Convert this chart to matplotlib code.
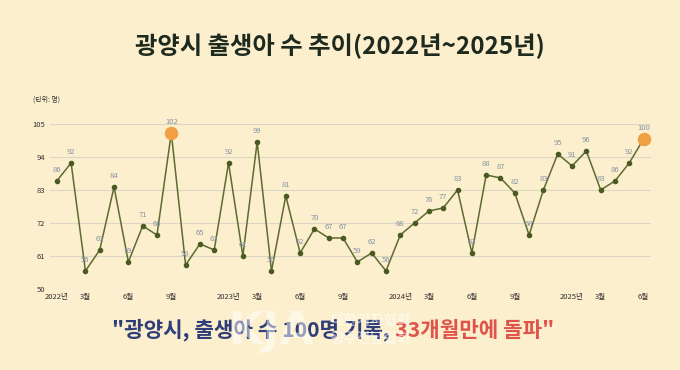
import matplotlib
matplotlib.use("Agg")
from matplotlib import pyplot as plt

plt.rcParams['font.family'] = ['Noto Sans CJK KR', 'DejaVu Sans']

# monthly births, 2022-01 .. 2025-06
births = [86, 92, 56, 63, 84, 59, 71, 68, 102, 58, 65, 63,
          92, 61, 99, 56, 81, 62, 70, 67, 67, 59, 62, 56,
          68, 72, 76, 77, 83, 62, 88, 87, 82, 68, 83, 95,
          91, 96, 83, 86, 92, 100]
highlight_idx = [8, 41]
tick_pos = [0, 2, 5, 8, 12, 14, 17, 20, 24, 26, 29, 32, 36, 38, 41]
tick_labels = ["2022년", "3월", "6월", "9월", "2023년", "3월", "6월", "9월",
               "2024년", "3월", "6월", "9월", "2025년", "3월", "6월"]
y_ticks = [50, 61, 72, 83, 94, 105]

BG = "#fcefcd"
LINE = "#5d6a30"
LABEL = "#8592a6"

fig = plt.figure(figsize=(6.8, 3.7), dpi=100, facecolor=BG)
ax = fig.add_axes([0.073, 0.219, 0.884, 0.446], facecolor=BG)

xs = list(range(len(births)))
ax.plot(xs, births, color=LINE, lw=1.1, zorder=3)
ax.scatter(xs, births, s=9, color="#4a5a22", zorder=4)
ax.scatter([xs[i] for i in highlight_idx], [births[i] for i in highlight_idx],
           s=75, color="#f0a042", zorder=5, clip_on=False)

for x, v in zip(xs, births):
    ax.text(x, v + 2.2, str(v), fontsize=5.5, color=LABEL, ha="center", va="bottom", zorder=6)

ax.set_xlim(-0.5, 41.5)
ax.set_ylim(50, 105)
ax.set_yticks(y_ticks)
ax.set_yticklabels([str(t) for t in y_ticks], fontsize=5.5, color="#333333")
ax.set_xticks(tick_pos)
ax.set_xticklabels(tick_labels, fontsize=5.5, color="#333333")
ax.tick_params(length=0, pad=3)
ax.grid(axis="y", color="#dcd6c4", lw=0.8)
ax.set_axisbelow(True)
for s in ax.spines.values():
    s.set_visible(False)

fig.text(0.049, 0.732, "(단위: 명)", fontsize=5, color="#333333", ha="left", va="center")

fig.text(0.5, 0.875, "광양시 출생아 수 추이(2022년~2025년)", fontsize=17.5, fontweight="bold",
         color="#1f2a1f", ha="center", va="center")

# headline, two colours
t1 = fig.text(0.165, 0.108, "\"광양시, 출생아 수 100명 기록, ", fontsize=15.3, fontweight="bold",
              color="#2f3d78", ha="left", va="center")
fig.canvas.draw()
bb = t1.get_window_extent()
x2 = bb.x1 / fig.bbox.width
fig.text(x2, 0.108, "33개월만에 돌파\"", fontsize=15.3, fontweight="bold",
         color="#e0534a", ha="left", va="center")

# watermark
fig.text(0.40, 0.105, "KJA", fontsize=32, fontweight="bold", color="white", alpha=0.5,
         ha="center", va="center", family="DejaVu Sans")
fig.text(0.545, 0.135, "대한기자협회", fontsize=10.5, fontweight="bold", color="white", alpha=0.5,
         ha="center", va="center")
fig.text(0.545, 0.086, "광주전남협회", fontsize=10.5, fontweight="bold", color="white", alpha=0.5,
         ha="center", va="center")

fig.savefig("out.png", dpi=100, facecolor=BG)
